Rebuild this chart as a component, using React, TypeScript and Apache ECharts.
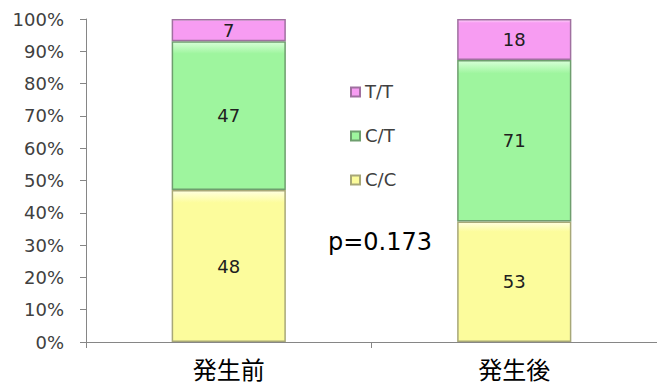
import React, { useEffect, useRef } from "react";
import * as echarts from "echarts";

const categories = ["発生前", "発生後"];
const seriesNames = ["C/C", "C/T", "T/T"];
const ccValues = [48, 53];
const ctValues = [47, 71];
const ttValues = [7, 18];
const yTicks = [0, 10, 20, 30, 40, 50, 60, 70, 80, 90, 100];
const pText = "p=0.173";

const rawSeries = [ccValues, ctValues, ttValues];
const fills = ["#FCFC9C", "#9EF59E", "#F79CF2"];
const tops = ["#FFFFE0", "#D8FFD8", "#FFD8FC"];
const borders = ["#A8A878", "#6E9E6E", "#A070A0"];

export default function App() {
  const ref = useRef<HTMLDivElement>(null);
  useEffect(() => {
    if (!ref.current) return;
    const chart = echarts.init(ref.current, null, { renderer: "svg" });
    const totals = categories.map((_, i) => rawSeries.reduce((s, a) => s + a[i], 0));
    const font = "'DejaVu Sans', 'Noto Sans CJK JP', sans-serif";
    chart.setOption({
      animation: false,
      backgroundColor: "#ffffff",
      textStyle: { fontFamily: font },
      grid: { left: 86, right: 0, top: 19, bottom: 46, containLabel: false },
      legend: {
        orient: "vertical",
        left: 345,
        top: 78,
        itemWidth: 9,
        itemHeight: 9,
        itemGap: 26,
        icon: "rect",
        data: ["T/T", "C/T", "C/C"],
        textStyle: { fontSize: 18, color: "#404040", fontFamily: font },
      },
      graphic: [
        {
          type: "text",
          left: 328,
          top: 230,
          style: { text: pText, fontSize: 24, fill: "#000", fontFamily: font },
        },
      ],
      xAxis: {
        type: "category",
        data: categories,
        axisLine: { show: true, lineStyle: { color: "#868686", width: 1 } },
        axisTick: { show: true, length: 6, lineStyle: { color: "#868686" } },
        axisLabel: { fontSize: 24, color: "#000", margin: 14, fontFamily: "'Noto Sans CJK JP', sans-serif" },
      },
      yAxis: {
        type: "value",
        min: 0,
        max: 100,
        interval: 10,
        axisLine: { show: true, lineStyle: { color: "#868686", width: 1 } },
        axisTick: { show: true, length: 6, lineStyle: { color: "#868686" } },
        splitLine: { show: false },
        axisLabel: {
          fontSize: 18,
          color: "#404040",
          margin: 22,
          formatter: (v: number) => (yTicks.includes(v) ? v + "%" : ""),
        },
      },
      series: seriesNames.map((name, si) => ({
        name,
        type: "bar",
        stack: "total",
        barWidth: "40%",
        data: rawSeries[si].map((v, i) => (v / totals[i]) * 100),
        itemStyle: {
          color: {
            type: "linear",
            x: 0,
            y: 0,
            x2: 0,
            y2: 1,
            colorStops: [
              { offset: 0, color: tops[si] },
              { offset: 0.08, color: fills[si] },
              { offset: 1, color: fills[si] },
            ],
          },
          borderColor: borders[si],
          borderWidth: 1.5,
        },
        label: {
          show: true,
          position: "inside",
          fontSize: 18,
          color: "#202020",
          fontFamily: font,
          formatter: (p: any) => String(rawSeries[si][p.dataIndex]),
        },
      })),
    });
    return () => chart.dispose();
  }, []);
  return <div ref={ref} style={{ position: "fixed", left: 0, top: 0, width: 657, height: 388 }} />;
}
